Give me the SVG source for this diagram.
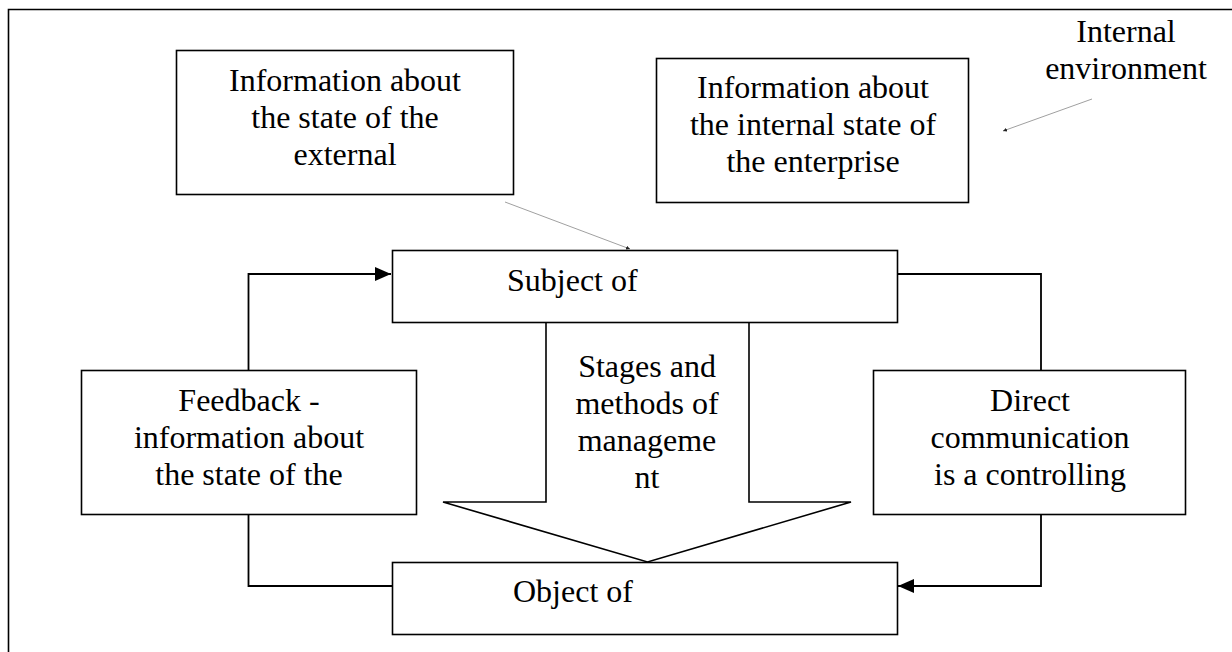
<svg xmlns="http://www.w3.org/2000/svg" width="1232" height="652" viewBox="0 0 1232 652">
  <defs>
    <style>
      .box { fill: #ffffff; stroke: #000000; stroke-width: 1.6; }
      .conn { fill: none; stroke: #000000; stroke-width: 1.8; }
      .thin { fill: none; stroke: #a0a0a0; stroke-width: 1; }
      .t { font-family: "Liberation Serif", "Times New Roman", serif; font-size: 32px; fill: #000000; }
      .c { text-anchor: middle; }
    </style>
    <marker id="arrow" viewBox="0 0 16 14" refX="16" refY="7" markerWidth="16" markerHeight="14" markerUnits="userSpaceOnUse" orient="auto">
      <path d="M0,0 L16,7 L0,14 Z" fill="#000000"/>
    </marker>
    <marker id="tiny" viewBox="0 0 4 4" refX="4" refY="2" markerWidth="4" markerHeight="4" markerUnits="userSpaceOnUse" orient="auto">
      <path d="M0,0 L4,2 L0,4 Z" fill="#222222"/>
    </marker>
  </defs>
  <rect x="0" y="0" width="1232" height="652" fill="#ffffff"/>

  <!-- outer frame -->
  <path d="M8.5,652 L8.5,9.5 L1232,9.5" fill="none" stroke="#000000" stroke-width="1.6"/>

  <g id="connectors">
    <path class="conn" d="M248.5,370 L248.5,274 L391,274" marker-end="url(#arrow)"/>
    <path class="conn" d="M248.5,514 L248.5,586 L392,586"/>
    <path class="conn" d="M897,274 L1041,274 L1041,371"/>
    <path class="conn" d="M1041,514 L1041,586 L898,586" marker-end="url(#arrow)"/>
    <path class="thin" d="M505,202 L630,249" marker-end="url(#tiny)"/>
    <path class="thin" d="M1092,99 L1003,131" marker-end="url(#tiny)"/>
  </g>

  <g id="stages">
    <polygon class="box" points="546,322 749,322 749,502 851,502 647.5,562 443,502 546,502"/>
    <text class="t c" x="647" y="377">Stages and</text>
    <text class="t c" x="647" y="414">methods of</text>
    <text class="t c" x="647" y="451">manageme</text>
    <text class="t c" x="647" y="488">nt</text>
  </g>

  <g id="info-external">
    <rect class="box" x="176.5" y="50.5" width="337" height="144"/>
    <text class="t c" x="345" y="91">Information about</text>
    <text class="t c" x="345" y="128">the state of the</text>
    <text class="t c" x="345" y="165">external</text>
  </g>

  <g id="info-internal">
    <rect class="box" x="656.5" y="58.5" width="312" height="144"/>
    <text class="t c" x="813" y="98">Information about</text>
    <text class="t c" x="813" y="135">the internal state of</text>
    <text class="t c" x="813" y="172">the enterprise</text>
  </g>

  <g id="internal-environment">
    <text class="t c" x="1126" y="42">Internal</text>
    <text class="t c" x="1126" y="79">environment</text>
  </g>

  <g id="subject">
    <rect class="box" x="392.5" y="250.5" width="505" height="72"/>
    <text class="t" x="507" y="291">Subject of</text>
  </g>

  <g id="feedback">
    <rect class="box" x="81.5" y="370.5" width="335" height="144"/>
    <text class="t c" x="249" y="411">Feedback -</text>
    <text class="t c" x="249" y="448">information about</text>
    <text class="t c" x="249" y="485">the state of the</text>
  </g>

  <g id="direct">
    <rect class="box" x="873.5" y="370.5" width="312" height="144"/>
    <text class="t c" x="1030" y="411">Direct</text>
    <text class="t c" x="1030" y="448">communication</text>
    <text class="t c" x="1030" y="485">is a controlling</text>
  </g>

  <g id="object">
    <rect class="box" x="392.5" y="562.5" width="505" height="72"/>
    <text class="t" x="513" y="602">Object of</text>
  </g>
</svg>
